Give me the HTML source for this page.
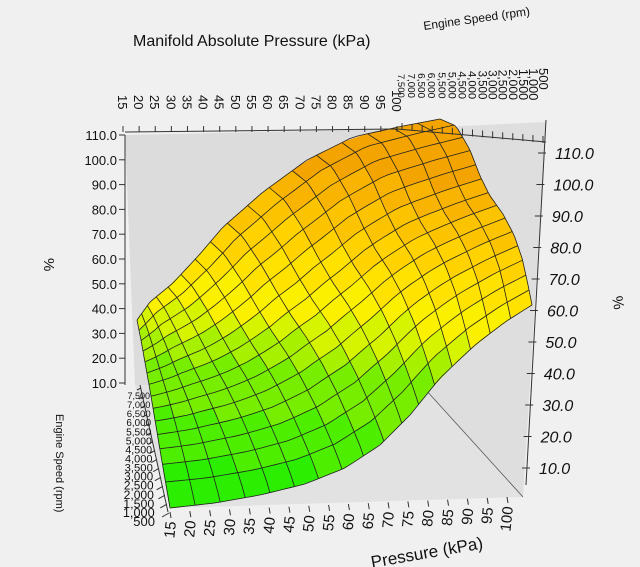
<!DOCTYPE html>
<html><head><meta charset="utf-8">
<style>
html,body{margin:0;padding:0;background:#f0f0f0;}
svg{display:block;font-family:"Liberation Sans",sans-serif;}
</style></head>
<body>
<svg id="s" width="640" height="567" viewBox="0 0 640 567" xmlns="http://www.w3.org/2000/svg"></svg>
<script>
const S=document.getElementById('s');
let out='';
function lerp(a,b,t){return a+(b-a)*t;}
const pts=a=>a.map(p=>p[0].toFixed(1)+','+p[1].toFixed(1)).join(' ');
function curve(ps){const L=[0];for(let i=1;i<ps.length;i++)L.push(L[i-1]+Math.hypot(ps[i][0]-ps[i-1][0],ps[i][1]-ps[i-1][1]));const T=L[L.length-1];
return t=>{const d=Math.min(1,Math.max(0,t))*T;let i=1;while(i<ps.length-1&&L[i]<d)i++;const f=(d-L[i-1])/(L[i]-L[i-1]||1);return [lerp(ps[i-1][0],ps[i][0],f),lerp(ps[i-1][1],ps[i][1],f)];};}
const F00=[170,508],F10=[523,497],F01=[135,385],F11=[425,389];
const T01=[125,135],T11=[397,129],T10=[546,122];
out+=`<polygon points="${pts([F01,T01,T11,F11])}" fill="#dcdcdc"/>`;
out+=`<polygon points="${pts([F11,T11,T10,F10])}" fill="#dedede"/>`;
out+=`<polygon points="${pts([F00,F10,F11,F01])}" fill="#e2e2e2"/>`;
out+=`<line x1="${T11[0]}" y1="${T11[1]}" x2="${F11[0]}" y2="${F11[1]}" stroke="#555" stroke-width="0.8"/>`;
out+=`<line x1="${F11[0]}" y1="${F11[1]}" x2="${F10[0]}" y2="${F10[1]}" stroke="#555" stroke-width="0.8"/>`;
const Front=curve([[170,508],[215,503],[260,495],[305,484],[345,468],[380,445],[410,415],[440,378],[475,345],[505,322],[532,305]]);
const Back=curve([[137,320],[150,302],[173,283],[200,254],[223,227],[263,192],[307,160],[353,137],[403,126],[440,119]]);
const Left=curve([[170,508],[160,450],[150,390],[141,340],[137,320]]);
const Right=curve([[532,305],[527,280],[522,258],[514,235],[503,214],[490,196],[480,176],[470,150],[456,126],[440,119]]);
const c00=Front(0),c10=Front(1),c01=Back(0),c11=Back(1);
function tb(u){return u-0.22*Math.sin(Math.PI*u)*(1-u);}
function tl(v){return Math.pow(v,0.75);}
function P(u,v){const f=Front(u),b=Back(tb(u)),l=Left(tl(v)),r=Right(v);
return [0,1].map(k=>(1-v)*f[k]+v*b[k]+(1-u)*l[k]+u*r[k]-((1-u)*(1-v)*c00[k]+u*(1-v)*c10[k]+(1-u)*v*c01[k]+u*v*c11[k]));}
function col(x,y){const yy=y-0.08*(x-300);const c=[[0,'#f3a400'],[175,'#f8b400'],[200,'#fcc400'],[228,'#ffd200'],[258,'#ffe200'],[288,'#fbf000'],[318,'#d6f300'],[342,'#a6f000'],[368,'#77ee00'],[420,'#4eee00'],[470,'#2cee00']];let r=c[0][1];for(const q of c)if(yy>=q[0])r=q[1];return r;}
const NU=17,NV=14;
for(let j=NV-1;j>=0;j--)for(let i=0;i<NU;i++){const u0=i/NU,u1=(i+1)/NU,v0=j/NV,v1=(j+1)/NV;
const q=[P(u0,v0),P(u1,v0),P(u1,v1),P(u0,v1)];const cx=(q[0][0]+q[1][0]+q[2][0]+q[3][0])/4,cy=(q[0][1]+q[1][1]+q[2][1]+q[3][1])/4;
out+=`<polygon points="${pts(q)}" fill="${col(cx,cy)}" stroke="${col(cx,cy)}" stroke-width="0.6"/>`;}
for(let i=0;i<=NU;i++){const a=[];for(let j=0;j<=40;j++)a.push(P(i/NU,j/40));out+=`<polyline points="${pts(a)}" fill="none" stroke="#222" stroke-width="0.8"/>`;}
for(let j=0;j<=NV;j++){const a=[];for(let i=0;i<=60;i++)a.push(P(i/60,j/NV));out+=`<polyline points="${pts(a)}" fill="none" stroke="#222" stroke-width="0.8"/>`;}
out+=`<line x1="125" y1="135" x2="125" y2="385" stroke="#333"/>`;
for(let k=0;k<=10;k++){const y=383-k*24.8;out+=`<line x1="119" y1="${y}" x2="125" y2="${y}" stroke="#333"/>`;
out+=`<text x="117" y="${y+5}" font-size="13" text-anchor="end" fill="#111">${(10+k*10).toFixed(1)}</text>`;}
out+=`<text x="0" y="0" font-size="15" transform="translate(44,258) rotate(90)" fill="#111">%</text>`;
for(let k=0;k<=10;k++){const t=k/10;const y=lerp(468,153,t),x=lerp(530,546,t);out+=`<line x1="${x-8}" y1="${y}" x2="${x}" y2="${y}" stroke="#333"/>`;
out+=`<text x="${x+9}" y="${y+6}" font-size="16" font-style="italic" fill="#111">${(10+k*10).toFixed(1)}</text>`;}
out+=`<line x1="546" y1="120" x2="526" y2="485" stroke="#333"/>`;
out+=`<text x="0" y="0" font-size="15" transform="translate(612,297) rotate(80)" fill="#111">%</text>`;
out+=`<text x="133" y="46" font-size="16" fill="#111">Manifold Absolute Pressure (kPa)</text>`;
out+=`<text x="0" y="0" font-size="12" transform="translate(424,30) rotate(-8)" fill="#111">Engine Speed (rpm)</text>`;
out+=`<line x1="125" y1="132" x2="397" y2="129" stroke="#333"/>`;
for(let k=0;k<18;k++){const x=lerp(123,397,k/17);out+=`<line x1="${x}" y1="${126}" x2="${x}" y2="132" stroke="#333"/>`;
out+=`<text x="0" y="0" font-size="13" transform="translate(${x-5},${k==17?90:95}) rotate(90)" fill="#111">${15+5*k}</text>`;}
out+=`<line x1="397" y1="129" x2="546" y2="142" stroke="#333"/>`;
for(let k=0;k<15;k++){const t=k/14;const x=lerp(402,543,t);const y=lerp(130,143,t);out+=`<line x1="${x}" y1="${y-7}" x2="${x}" y2="${y}" stroke="#333"/>`;
const lab=(7500-500*k).toLocaleString('en-US');out+=`<text x="0" y="0" font-size="${lerp(9.5,13,t)}" transform="translate(${x-4},${lerp(74,68,t)}) rotate(90)" fill="#111">${lab}</text>`;}
out+=`<line x1="140" y1="385" x2="168" y2="512" stroke="#333"/>`;
for(let k=0;k<15;k++){const t=k/14;const y=lerp(522,395,t),x=lerp(155,150,t);
out+=`<line x1="${lerp(162,137,t)}" y1="${lerp(517,390,t)}" x2="${lerp(169,141,t)}" y2="${lerp(513,388,t)}" stroke="#333"/>`;
out+=`<text x="${x}" y="${y+4}" font-size="${lerp(13,9,t)}" text-anchor="end" fill="#111">${(500+500*k).toLocaleString('en-US')}</text>`;}
out+=`<text x="0" y="0" font-size="11" transform="translate(56,414) rotate(90)" fill="#111">Engine Speed (rpm)</text>`;
for(let k=0;k<18;k++){const t=k/17;const x=lerp(170,507,t),y=lerp(512,497,t);out+=`<line x1="${x}" y1="${y}" x2="${x+1}" y2="${y+6}" stroke="#333"/>`;
out+=`<text x="0" y="0" font-size="15" transform="translate(${x+6},${y+10}) rotate(-84)" text-anchor="end" fill="#111">${15+5*k}</text>`;}
out+=`<text x="0" y="0" font-size="17" transform="translate(372,568) rotate(-10)" fill="#111">Pressure (kPa)</text>`;
S.innerHTML=out;
</script>
</body></html>
